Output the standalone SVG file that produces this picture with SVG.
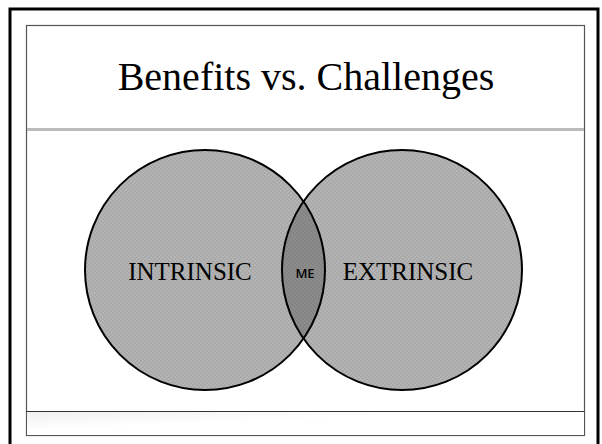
<svg xmlns="http://www.w3.org/2000/svg" width="602" height="444" viewBox="0 0 602 444">
<defs>
<pattern id="chk" width="4" height="4" patternUnits="userSpaceOnUse">
<rect width="4" height="4" fill="#b4b4b4"/>
<rect width="2" height="2" fill="#a9a9a9"/>
<rect x="2" y="2" width="2" height="2" fill="#a9a9a9"/>
</pattern>
<pattern id="chkd" width="4" height="4" patternUnits="userSpaceOnUse">
<rect width="4" height="4" fill="#8c8c8c"/>
<rect width="2" height="2" fill="#848484"/>
<rect x="2" y="2" width="2" height="2" fill="#848484"/>
</pattern>
<linearGradient id="fg" x1="0" y1="0" x2="1" y2="1">
<stop offset="0" stop-color="#f0f0f0"/>
<stop offset="0.4" stop-color="#ffffff"/>
</linearGradient>
</defs>
<style>
.ring{fill:none;stroke:#000;stroke-width:2}
.lbl{font-family:"Liberation Serif","Times New Roman",serif;font-size:25px;fill:#000;text-anchor:middle}
</style>
<rect x="0" y="0" width="602" height="444" fill="#fff"/>
<rect x="10" y="9" width="588" height="445" fill="none" stroke="#000" stroke-width="3"/>
<rect x="26.5" y="25.5" width="558" height="410" fill="#fff" stroke="#555" stroke-width="1.2"/>
<rect x="27" y="412" width="557" height="23" fill="url(#fg)"/>
<line x1="26.5" y1="411.5" x2="584.5" y2="411.5" stroke="#333" stroke-width="1"/>
<line x1="27" y1="129.5" x2="584" y2="129.5" stroke="#bbb" stroke-width="3"/>
<text x="306" y="90" font-family="Liberation Serif, Times New Roman, serif" font-size="40" text-anchor="middle" fill="#000">Benefits vs. Challenges</text>
<g id="intrinsic">
<circle cx="205" cy="270" r="120" fill="url(#chk)"/>
<text class="lbl" x="190" y="280">INTRINSIC</text>
</g>
<g id="extrinsic">
<circle cx="402" cy="270" r="120" fill="url(#chk)"/>
<text class="lbl" x="408" y="280">EXTRINSIC</text>
</g>
<g id="me">
<path d="M303.5,201.5 A120,120 0 0 1 303.5,338.5 A120,120 0 0 1 303.5,201.5 Z" fill="url(#chkd)"/>
<text x="305" y="278" font-family="Open Sans, Liberation Sans, sans-serif" font-size="13" font-weight="600" text-anchor="middle" fill="#000">ME</text>
</g>
<g id="connectors">
<circle class="ring" cx="205" cy="270" r="120"/>
<circle class="ring" cx="402" cy="270" r="120"/>
</g>
</svg>
